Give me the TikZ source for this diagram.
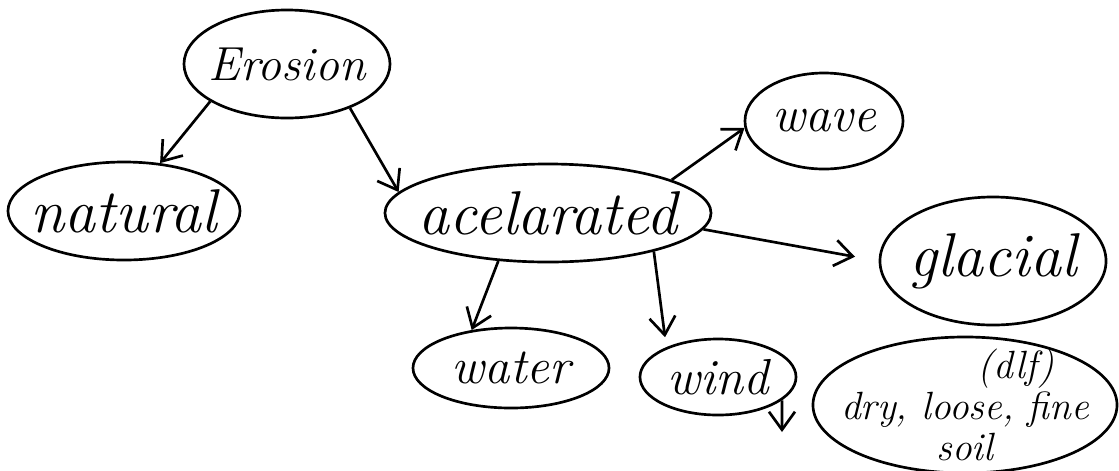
\documentclass[tikz,border=0pt]{standalone}
\usepackage{tikz}
\usetikzlibrary{arrows,arrows.meta,shapes.geometric}

\begin{document}
\begin{tikzpicture}[x=0.025cm, y=-0.025cm,
  bubble/.style={ellipse, draw, line width=1.9pt, inner sep=-1cm,
    font=\fontsize{36}{36}\selectfont\itshape},
  big/.style={font=\fontsize{44}{44}\selectfont\itshape},
  link/.style={-{Straight Barb[length=4.5mm,width=6.5mm]}, line width=1.9pt}]
%%%%% Frame %%%%%
\useasboundingbox (0,0) rectangle (1119,470);
%%%%% Bubbles %%%%%
\node[bubble, minimum width=5.15cm, minimum height=2.7cm,
  font=\fontsize{34}{34}\selectfont\itshape] (erosion) at (287,64) {Erosion};
\node[bubble, big, minimum width=5.8cm, minimum height=2.45cm] (natural) at (124,211) {natural};
\node[bubble, big, minimum width=8.15cm, minimum height=2.45cm] (acel) at (548,213) {acelarated};
\node[bubble, minimum width=3.95cm, minimum height=2.4cm] (wave) at (824,121) {wave};
\node[bubble, big, minimum width=5.65cm, minimum height=3.2cm] (glacial) at (993,261) {glacial};
\node[bubble, minimum width=4.9cm, minimum height=2cm] (water) at (511,368) {water};
\node[bubble, minimum width=3.9cm, minimum height=1.9cm] (wind) at (718,377) {wind};
\node[bubble, minimum width=7.6cm, minimum height=3.4cm, align=center,
  font=\fontsize{28}{29}\selectfont\itshape] (soil) at (965,405)
  {\hspace*{2.6em}(dlf)\\dry, loose, fine\\soil};
%%%%% Arrows %%%%%
\draw[link] (erosion.206) -- (natural.53);
\draw[link] (erosion.325) -- (acel.172);
\draw[link] (acel.15) -- (wave.185);
\draw[link, shorten >=0.6cm] (acel.354) -- (glacial.180);
\draw[link] (acel.224) -- (water.136);
\draw[link, shorten >=0.25cm] (acel.340) -- (wind.150);
\coordinate (drop) at (782,432);
\draw[link] (wind.340) -- (drop);
\end{tikzpicture}
\end{document}
